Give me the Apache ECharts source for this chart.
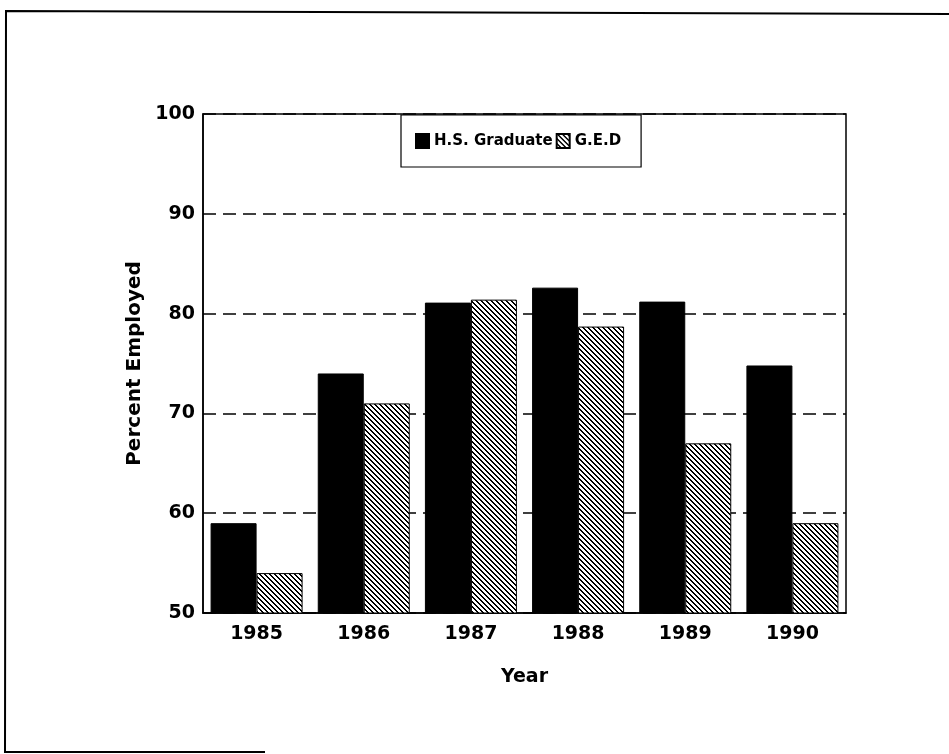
<!DOCTYPE html>
<html>
<head>
<meta charset="utf-8">
<title>Percent Employed by Year</title>
<script src="https://cdn.jsdelivr.net/npm/echarts@6/dist/echarts.min.js"></script>
<style>
  html, body { margin: 0; padding: 0; background: #fff; }
  #chart { width: 949px; height: 754px; }
</style>
</head>
<body>
<div id="chart"></div>
<script>
// Employment rates by year for high-school graduates and GED holders
const years = ['1985', '1986', '1987', '1988', '1989', '1990'];
const hsGraduate = [59, 74, 81.1, 82.6, 81.2, 74.8];
const ged = [54, 71, 81.4, 78.7, 67, 59];
const yTicks = { min: 50, max: 100, interval: 10 };

// Diagonal hatch fill (lines running top-left to bottom-right)
function makeHatch() {
  const s = 10, period = 5;
  const c = document.createElement('canvas');
  c.width = s; c.height = s;
  const g = c.getContext('2d');
  g.fillStyle = '#fff';
  g.fillRect(0, 0, s, s);
  g.fillStyle = '#000';
  for (let y = 0; y < s; y++) {
    for (let x = 0; x < s; x++) {
      if ((((x - y) % period) + period) % period < 2) g.fillRect(x, y, 1, 1);
    }
  }
  return c;
}
const hatch = { image: makeHatch(), repeat: 'repeat' };

const FONT = 'DejaVu Sans';
const chart = echarts.init(document.getElementById('chart'), null, { renderer: 'canvas' });

chart.setOption({
  animation: false,
  backgroundColor: '#fff',
  grid: {
    left: 203, right: 103, top: 114, bottom: 141,
    show: true, borderColor: '#000', borderWidth: 1.5, backgroundColor: 'transparent'
  },
  legend: {
    left: 401, top: 115,
    orient: 'horizontal',
    icon: 'rect',
    itemWidth: 13, itemHeight: 14, itemGap: 3,
    padding: [18, 20, 18, 14],
    borderColor: '#000', borderWidth: 1.2,
    backgroundColor: '#fff',
    textStyle: { fontFamily: FONT, fontWeight: 'bold', fontSize: 15, color: '#000' },
    data: ['H.S. Graduate', 'G.E.D']
  },
  xAxis: {
    type: 'category',
    data: years,
    name: 'Year',
    nameLocation: 'middle',
    nameGap: 55,
    nameTextStyle: { fontFamily: FONT, fontWeight: 'bold', fontSize: 19, color: '#000' },
    axisLine: { show: true, lineStyle: { color: '#000', width: 1.5 } },
    axisTick: { show: false },
    axisLabel: { margin: 12, fontFamily: FONT, fontWeight: 'bold', fontSize: 19, color: '#000' },
    splitLine: { show: false }
  },
  yAxis: {
    type: 'value',
    min: yTicks.min, max: yTicks.max, interval: yTicks.interval,
    name: 'Percent Employed',
    nameLocation: 'middle',
    nameGap: 44,
    nameTextStyle: { fontFamily: FONT, fontWeight: 'bold', fontSize: 20, color: '#000' },
    axisLine: { show: true, lineStyle: { color: '#000', width: 1.5 } },
    axisTick: { show: false },
    axisLabel: { margin: 8, fontFamily: FONT, fontWeight: 'bold', fontSize: 19, color: '#000' },
    splitLine: { show: true, lineStyle: { color: '#000', width: 1.5, type: [13, 7] } }
  },
  series: [
    {
      name: 'H.S. Graduate',
      type: 'bar',
      data: hsGraduate,
      barWidth: 46,
      barGap: '0%',
      itemStyle: { color: '#000', borderColor: '#000', borderWidth: 1 }
    },
    {
      name: 'G.E.D',
      type: 'bar',
      data: ged,
      barWidth: 46,
      barGap: '0%',
      itemStyle: { color: hatch, borderColor: '#000', borderWidth: 1 }
    }
  ],
  graphic: [
    {
      type: 'polyline',
      silent: true,
      shape: { points: [[265, 752], [5, 752], [6, 11], [949, 14]] },
      style: { stroke: '#000', lineWidth: 2, fill: null }
    }
  ]
});
</script>
</body>
</html>
